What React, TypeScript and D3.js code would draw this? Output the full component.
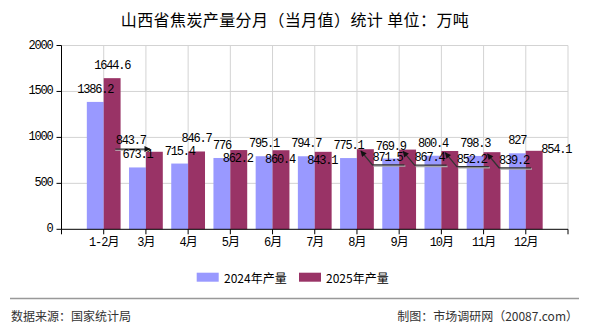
import React from "react";
import * as d3 from "d3";

const categories = ["1-2月", "3月", "4月", "5月", "6月", "7月", "8月", "9月", "10月", "11月", "12月"];
const values2024 = [1386.2, 673.1, 715.4, 776, 795.1, 794.7, 775.1, 769.9, 800.4, 798.3, 827];
const values2025 = [1644.6, 843.7, 846.7, 862.2, 860.4, 843.1, 871.5, 867.4, 852.2, 839.2, 854.1];
const yTicks = [0, 500, 1000, 1500, 2000];
const seriesNames = ["2024年产量", "2025年产量"];
// label placement style for the 2025 series (mimics the reference's label-avoid layout)
const placement2025 = ["above", "left", "above", "below", "below", "below", "arrow", "arrow", "arrow", "arrow", "right"];

const W = 590;
const H = 330;
const C24 = "#9999FF";
const C25 = "#993366";
const MONO = "'Liberation Mono', 'DejaVu Sans Mono', 'Noto Sans CJK SC', monospace";
const CJK = "'Noto Sans CJK SC', 'Liberation Sans', sans-serif";

export default function App() {
  const x = d3.scaleLinear().domain([0, categories.length + 1]).range([61.5, 568]);
  const y = d3.scaleLinear().domain([0, 2000]).range([229.3, 45.5]);
  const unit = x(1) - x(0);
  const bw = unit * 0.4;
  const left = x(0);
  const right = x(categories.length + 1);
  const bottom = y(0);
  const top = y(2000);
  const charW = 6;

  const lbl = (t: string, cx: number, cy: number, key: string) => (
    <text key={key} x={cx} y={cy} textAnchor="middle" dominantBaseline="central"
      fontFamily={MONO} fontSize={12} letterSpacing={-1.2} fill="#000">{t}</text>
  );

  const labels: any[] = [];
  const leaders: any[] = [];
  categories.forEach((_, i) => {
    const c = x(i + 1);
    const v1 = values2024[i];
    labels.push(lbl(String(v1), c - bw / 2, y(v1) - 12, "a" + i));
    const v2 = values2025[i];
    const t = y(v2);
    const cx2 = c + bw / 2;
    const s = String(v2);
    const w = s.length * charW;
    const p = placement2025[i];
    if (p === "above") {
      labels.push(lbl(s, cx2, t - 12.3, "b" + i));
    } else if (p === "below") {
      labels.push(lbl(s, cx2 - 1, t + 9.3, "b" + i));
    } else if (p === "right") {
      labels.push(lbl(s, cx2 + 22, t - 0.7, "b" + i));
    } else if (p === "left") {
      const lx = cx2 - 23.6;
      const ly = t - 10.7;
      labels.push(lbl(s, lx, ly, "b" + i));
      const yy = ly + 8;
      leaders.push(
        <g key={"l" + i}>
          <line x1={lx - w / 2 - 0.5} y1={yy + 1} x2={c + 4} y2={yy + 1} stroke="#bbb" strokeWidth={1.2} />
          <line x1={lx - w / 2 - 0.5} y1={yy} x2={c + 4} y2={yy} stroke="#333" strokeWidth={1.2} markerEnd="url(#arrowHead)" />
        </g>
      );
    } else {
      const lx = cx2 + 22;
      const ly = t + 8.6;
      labels.push(lbl(s, lx, ly, "b" + i));
      const tipX = cx2 - 4.5;
      const tipY = t + 1.8;
      const cornerX = lx - w / 2;
      const uy = ly + 7;
      const endX = lx + w / 2 + 2;
      leaders.push(
        <g key={"l" + i}>
          <polyline points={`${cornerX + 1},${uy + 1.2} ${endX + 1},${uy + 1.2}`} fill="none" stroke="#aaa" strokeWidth={1.5} />
          <polyline points={`${tipX},${tipY} ${cornerX},${uy} ${endX},${uy}`} fill="none" stroke="#333" strokeWidth={1.3} markerStart="url(#arrowHead2)" />
        </g>
      );
    }
  });

  return (
    <svg width={W} height={H} style={{ position: "absolute", left: 0, top: 0, background: "#fff" }}>
      <defs>
        <marker id="arrowHead" viewBox="0 0 10 10" refX="9" refY="5" markerWidth="7" markerHeight="6" markerUnits="userSpaceOnUse" orient="auto">
          <path d="M0,0 L10,5 L0,10 z" fill="#111" />
        </marker>
        <marker id="arrowHead2" viewBox="0 0 10 10" refX="9" refY="5" markerWidth="8" markerHeight="6" markerUnits="userSpaceOnUse" orient="auto-start-reverse">
          <path d="M0,0 L10,5 L0,10 z" fill="#111" />
        </marker>
      </defs>
      <rect x={0} y={0} width={W} height={H} fill="#fff" />
      <text x={W / 2} y={18.5} textAnchor="middle" dominantBaseline="central" fontFamily={CJK} fontSize={16} letterSpacing={0.4} fill="#000">
        山西省焦炭产量分月（当月值）统计 单位：万吨
      </text>

      {/* grid */}
      {yTicks.filter((d) => d > 0).map((d) => (
        <line key={"gy" + d} x1={left} x2={right} y1={y(d)} y2={y(d)} stroke="#d3d3d3" strokeWidth={1} />
      ))}
      {d3.range(1, categories.length + 2).map((k) => (
        <line key={"gx" + k} x1={x(k)} x2={x(k)} y1={top} y2={bottom} stroke="#d3d3d3" strokeWidth={1} />
      ))}

      {/* bars */}
      {categories.map((cat, i) => (
        <g key={cat}>
          <rect x={x(i + 1) - bw} y={y(values2024[i])} width={bw} height={bottom - y(values2024[i])} fill={C24} />
          <rect x={x(i + 1)} y={y(values2025[i])} width={bw} height={bottom - y(values2025[i])} fill={C25} />
        </g>
      ))}

      {/* axes */}
      <line x1={left} x2={left} y1={top} y2={bottom} stroke="#000" strokeWidth={1} />
      <line x1={left} x2={right} y1={bottom} y2={bottom} stroke="#000" strokeWidth={1} />
      {yTicks.map((d) => (
        <g key={"yt" + d}>
          <line x1={left - 5} x2={left} y1={y(d)} y2={y(d)} stroke="#000" />
          <text x={left - 9} y={y(d)} textAnchor="end" dominantBaseline="central" fontFamily={MONO} fontSize={12} letterSpacing={-1.2} fill="#000">{d}</text>
        </g>
      ))}
      {d3.range(0, categories.length + 2).map((k) => (
        <line key={"xt" + k} x1={x(k)} x2={x(k)} y1={bottom} y2={bottom + 5} stroke="#000" />
      ))}
      {categories.map((cat, i) => (
        <text key={"xl" + i} x={x(i + 1)} y={243} textAnchor="middle" dominantBaseline="central" fontFamily={MONO} fontSize={12} letterSpacing={-1} fill="#000">{cat}</text>
      ))}

      {leaders}
      {labels}

      {/* legend */}
      <rect x={196.7} y={272.7} width={22} height={9} fill={C24} />
      <text x={224} y={277.5} dominantBaseline="central" fontFamily={CJK} fontSize={12} fill="#000">{seriesNames[0]}</text>
      <rect x={299} y={272.7} width={22} height={9} fill={C25} />
      <text x={326} y={277.5} dominantBaseline="central" fontFamily={CJK} fontSize={12} fill="#000">{seriesNames[1]}</text>

      {/* footer */}
      <line x1={10} x2={579} y1={298.5} y2={298.5} stroke="#999" strokeWidth={1.5} />
      <text x={11} y={315.5} dominantBaseline="central" fontFamily={CJK} fontSize={12} fill="#333">数据来源：国家统计局</text>
      <text x={578} y={315.5} textAnchor="end" dominantBaseline="central" fontFamily={CJK} fontSize={12} fill="#333">制图：市场调研网（20087.com）</text>
    </svg>
  );
}
